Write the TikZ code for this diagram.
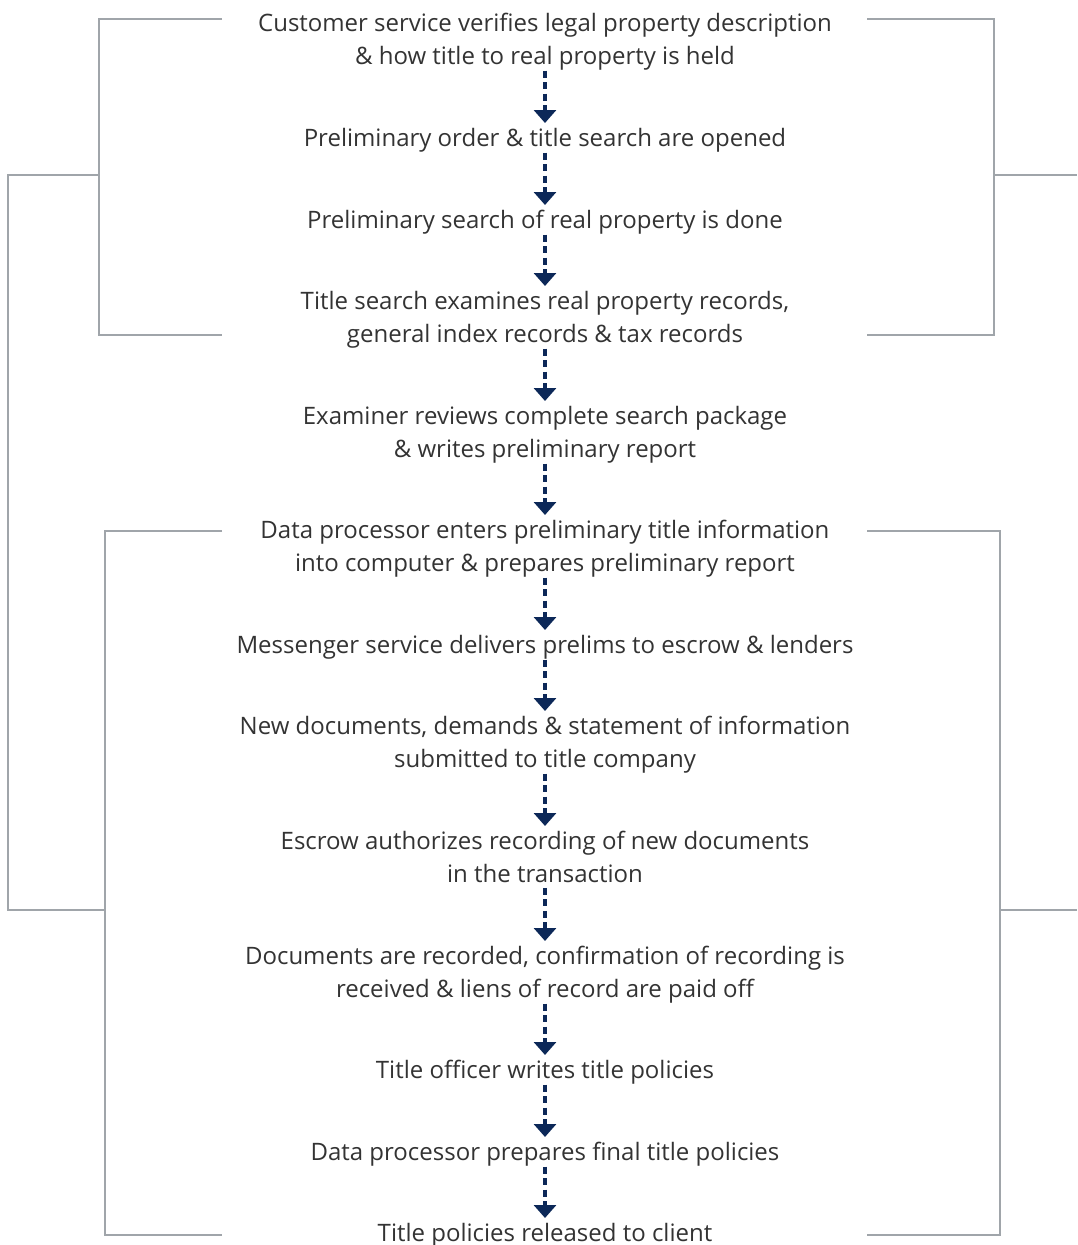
\documentclass[tikz,border=0pt]{standalone}
\usepackage{fontspec}
\setmainfont{Open Sans}
\usetikzlibrary{arrows.meta}
\definecolor{navyarrow}{RGB}{12,40,88}
\definecolor{bracketgray}{RGB}{160,165,170}
\definecolor{txtgray}{RGB}{51,51,51}
\newcommand\mystrut{\rule[-5pt]{0pt}{28.5pt}}
\tikzset{
  stepnode/.style={anchor=north, inner xsep=2pt, inner ysep=0pt, align=center,
    text=txtgray, font=\fontsize{24}{33}\selectfont},
  flowarrow/.style={draw=navyarrow, line width=3.2pt, dash pattern=on 7pt off 4.5pt,
    -{Triangle[width=22pt,length=13pt]}, shorten >=0pt},
  bracketline/.style={draw=bracketgray, line width=1.3pt}
}
\begin{document}
\begin{tikzpicture}[x=1pt,y=-1pt]
\useasboundingbox (0,0) rectangle (1077,1245);
% brackets
\draw[bracketline] (222,19) -- (99,19) -- (99,335) -- (222,335);
\draw[bracketline] (867,19) -- (994,19) -- (994,335) -- (867,335);
\draw[bracketline] (222,531) -- (105,531) -- (105,1235) -- (222,1235);
\draw[bracketline] (867,531) -- (1000,531) -- (1000,1235) -- (867,1235);
\draw[bracketline] (99,175) -- (8,175) -- (8,910) -- (105,910);
\draw[bracketline] (994,175) -- (1077,175);
\draw[bracketline] (1000,910) -- (1077,910);
% steps
\node[stepnode] (n1) at (545,8) {\mystrut Customer service verifies legal property description\\ \& how title to real property is held\mystrut};
\node[stepnode] (n2) at (545,123) {\mystrut Preliminary order \& title search are opened};
\node[stepnode] (n3) at (545,205) {\mystrut Preliminary search of real property is done};
\node[stepnode] (n4) at (545,286) {\mystrut Title search examines real property records,\\ general index records \& tax records\mystrut};
\node[stepnode] (n5) at (545,401) {\mystrut Examiner reviews complete search package\\ \& writes preliminary report\mystrut};
\node[stepnode] (n6) at (545,515) {\mystrut Data processor enters preliminary title information\\ into computer \& prepares preliminary report\mystrut};
\node[stepnode] (n7) at (545,630) {\mystrut Messenger service delivers prelims to escrow \& lenders};
\node[stepnode] (n8) at (545,711) {\mystrut New documents, demands \& statement of information\\ submitted to title company\mystrut};
\node[stepnode] (n9) at (545,826) {\mystrut Escrow authorizes recording of new documents\\ in the transaction\mystrut};
\node[stepnode] (n10) at (545,941) {\mystrut Documents are recorded, confirmation of recording is\\ received \& liens of record are paid off\mystrut};
\node[stepnode] (n11) at (545,1055) {\mystrut Title officer writes title policies};
\node[stepnode] (n12) at (545,1137) {\mystrut Data processor prepares final title policies};
\node[stepnode] (n13) at (545,1218) {\mystrut Title policies released to client};
% arrows
\foreach \a/\b in {n1/n2,n2/n3,n3/n4,n4/n5,n5/n6,n6/n7,n7/n8,n8/n9,n9/n10,n10/n11,n11/n12,n12/n13}
  \draw[flowarrow] (\a.south) -- (\b.north);
\end{tikzpicture}
\end{document}
